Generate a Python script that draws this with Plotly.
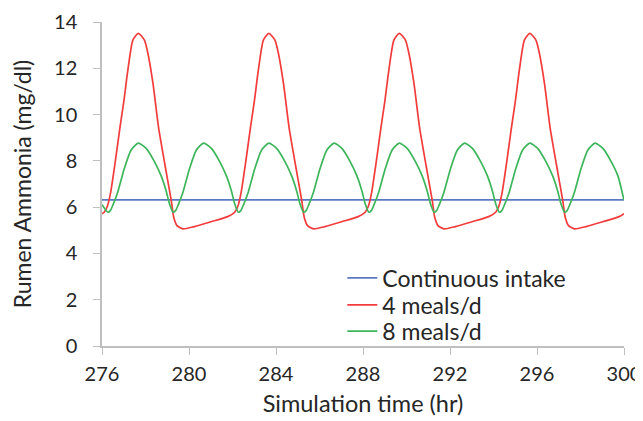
import plotly.graph_objects as go

# ---- data ----
x_range = [276, 300]
y_range = [0, 14]
x_ticks = [276, 280, 284, 288, 292, 296, 300]
y_ticks = [0, 2, 4, 6, 8, 10, 12, 14]

continuous_time = [276.0, 300.0]
continuous_value = [6.31, 6.31]

meals4_time = [
    276.00,
    276.10, 276.25, 276.40, 276.60, 276.82, 277.00, 277.19, 277.42, 277.67, 277.95, 278.11,
    278.35, 278.60, 278.90, 279.18, 279.30, 279.45, 279.72, 280.25, 281.02, 281.78,
    282.10, 282.25, 282.40, 282.60, 282.82, 283.00, 283.19, 283.42, 283.67, 283.95, 284.11,
    284.35, 284.60, 284.90, 285.18, 285.30, 285.45, 285.72, 286.25, 287.02, 287.78,
    288.10, 288.25, 288.40, 288.60, 288.82, 289.00, 289.19, 289.42, 289.67, 289.95, 290.11,
    290.35, 290.60, 290.90, 291.18, 291.30, 291.45, 291.72, 292.25, 293.02, 293.78,
    294.10, 294.25, 294.40, 294.60, 294.82, 295.00, 295.19, 295.42, 295.67, 295.95, 296.11,
    296.35, 296.60, 296.90, 297.18, 297.30, 297.45, 297.72, 298.25, 299.02, 299.78,
    300.00,
]
meals4_value = [
    5.72,
    5.78, 6.05, 6.65, 7.90, 9.40, 10.55, 11.93, 13.22, 13.51, 13.22, 12.65,
    11.30, 9.45, 7.80, 6.31, 5.55, 5.20, 5.06, 5.16, 5.37, 5.59,
    5.78, 6.05, 6.65, 7.90, 9.40, 10.55, 11.93, 13.22, 13.51, 13.22, 12.65,
    11.30, 9.45, 7.80, 6.31, 5.55, 5.20, 5.06, 5.16, 5.37, 5.59,
    5.78, 6.05, 6.65, 7.90, 9.40, 10.55, 11.93, 13.22, 13.51, 13.22, 12.65,
    11.30, 9.45, 7.80, 6.31, 5.55, 5.20, 5.06, 5.16, 5.37, 5.59,
    5.78, 6.05, 6.65, 7.90, 9.40, 10.55, 11.93, 13.22, 13.51, 13.22, 12.65,
    11.30, 9.45, 7.80, 6.31, 5.55, 5.20, 5.06, 5.16, 5.37, 5.59,
    5.72,
]

meals8_time = [
    276.00,
    276.27, 276.39, 276.50, 276.73, 277.03, 277.34, 277.67, 278.03, 278.41, 278.72, 278.95, 279.10,
    279.27, 279.39, 279.50, 279.73, 280.03, 280.34, 280.67, 281.03, 281.41, 281.72, 281.95, 282.10,
    282.27, 282.39, 282.50, 282.73, 283.03, 283.34, 283.67, 284.03, 284.41, 284.72, 284.95, 285.10,
    285.27, 285.39, 285.50, 285.73, 286.03, 286.34, 286.67, 287.03, 287.41, 287.72, 287.95, 288.10,
    288.27, 288.39, 288.50, 288.73, 289.03, 289.34, 289.67, 290.03, 290.41, 290.72, 290.95, 291.10,
    291.27, 291.39, 291.50, 291.73, 292.03, 292.34, 292.67, 293.03, 293.41, 293.72, 293.95, 294.10,
    294.27, 294.39, 294.50, 294.73, 295.03, 295.34, 295.67, 296.03, 296.41, 296.72, 296.95, 297.10,
    297.27, 297.39, 297.50, 297.73, 298.03, 298.34, 298.67, 299.03, 299.41, 299.72,
    300.00,
]
meals8_value = [
    6.10,
    5.78, 5.86, 6.09, 6.67, 7.68, 8.47, 8.77, 8.54, 7.97, 7.35, 6.70, 6.15,
    5.78, 5.86, 6.09, 6.67, 7.68, 8.47, 8.77, 8.54, 7.97, 7.35, 6.70, 6.15,
    5.78, 5.86, 6.09, 6.67, 7.68, 8.47, 8.77, 8.54, 7.97, 7.35, 6.70, 6.15,
    5.78, 5.86, 6.09, 6.67, 7.68, 8.47, 8.77, 8.54, 7.97, 7.35, 6.70, 6.15,
    5.78, 5.86, 6.09, 6.67, 7.68, 8.47, 8.77, 8.54, 7.97, 7.35, 6.70, 6.15,
    5.78, 5.86, 6.09, 6.67, 7.68, 8.47, 8.77, 8.54, 7.97, 7.35, 6.70, 6.15,
    5.78, 5.86, 6.09, 6.67, 7.68, 8.47, 8.77, 8.54, 7.97, 7.35, 6.70, 6.15,
    5.78, 5.86, 6.09, 6.67, 7.68, 8.47, 8.77, 8.54, 7.97, 7.35,
    6.30,
]

series_names = ["Continuous intake", "4 meals/d", "8 meals/d"]

# ---- styling ----
FONT = "Lato"
TEXT = "#262626"
AXIS = "#BFBFBF"
colors = ["#5B79C2", "#F23C3C", "#3DB55A"]
legend_ids = ["legend", "legend2", "legend3"]
legend_rows_y = [0.210, 0.1265, 0.046]

fig = go.Figure()
for name, t, v, c, lg in zip(series_names,
                             [continuous_time, meals4_time, meals8_time],
                             [continuous_value, meals4_value, meals8_value],
                             colors, legend_ids):
    fig.add_trace(go.Scatter(x=t, y=v, mode="lines", name=name, legend=lg,
                             line=dict(color=c, width=1.7, shape="spline", smoothing=0.6)))

legend_style = dict(x=0.4604, xanchor="left", yanchor="middle",
                    font=dict(family=FONT, size=23, color=TEXT),
                    bgcolor="rgba(0,0,0,0)", itemwidth=30)

# page body adds an 8px offset, margins compensate for it
fig.update_layout(
    width=643, height=421,
    margin=dict(l=94, r=27, t=14, b=83),
    paper_bgcolor="white", plot_bgcolor="white",
    font=dict(family=FONT, size=20, color=TEXT),
    showlegend=True,
    legend=dict(y=legend_rows_y[0], **legend_style),
    legend2=dict(y=legend_rows_y[1], **legend_style),
    legend3=dict(y=legend_rows_y[2], **legend_style),
)
fig.update_xaxes(
    range=x_range, tickvals=x_ticks, ticktext=[str(v) for v in x_ticks],
    automargin=False,
    showgrid=False, zeroline=False, showline=True, linecolor=AXIS, linewidth=1.5,
    ticks="outside", ticklen=7, tickcolor=AXIS, tickwidth=1.3,
    tickfont=dict(family=FONT, size=20, color=TEXT),
    ticklabelstandoff=2,
    title=dict(text="Simulation time (hr)", font=dict(family=FONT, size=23.5, color=TEXT), standoff=12),
)
fig.update_yaxes(
    range=y_range, tickvals=y_ticks, ticktext=[str(v) for v in y_ticks],
    automargin=False,
    showgrid=False, zeroline=False, showline=True, linecolor=AXIS, linewidth=1.5,
    ticks="outside", ticklen=7, tickcolor=AXIS, tickwidth=1.3,
    tickfont=dict(family=FONT, size=20, color=TEXT),
    ticklabelstandoff=12,
    title=dict(text="Rumen Ammonia (mg/dl)", font=dict(family=FONT, size=23, color=TEXT), standoff=20),
)

fig.write_html("out.html")
